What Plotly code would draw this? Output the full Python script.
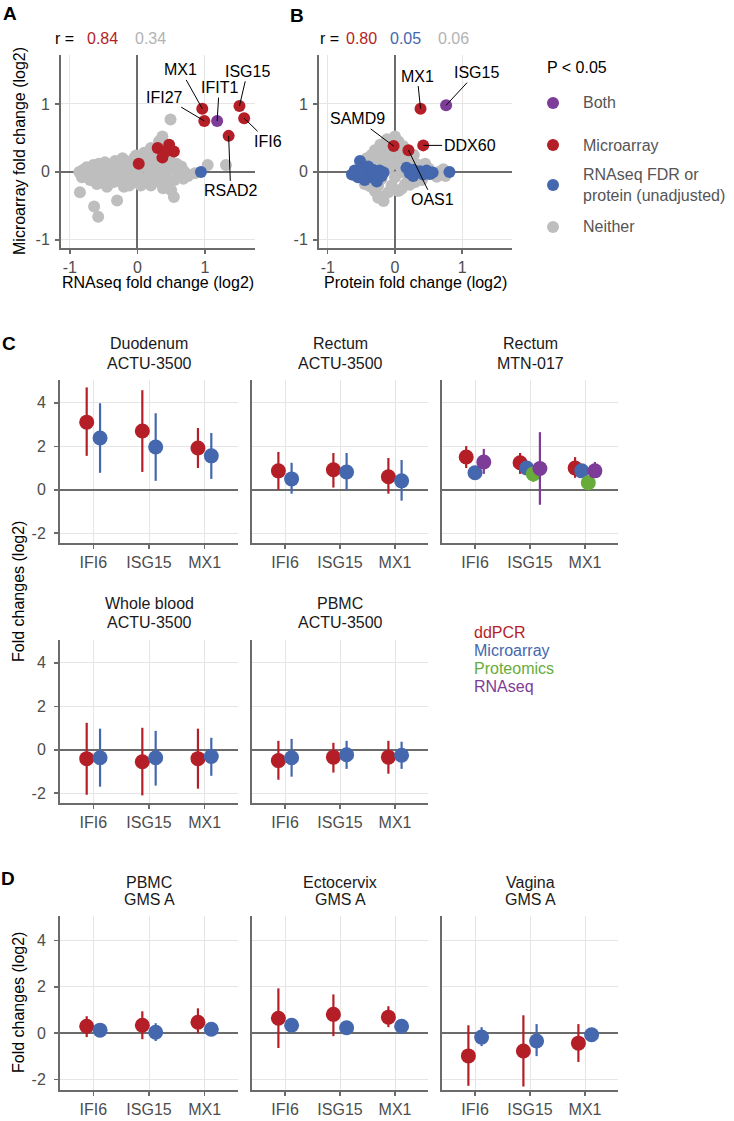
import plotly.graph_objects as go

W, H = 734, 1121
FONT = "Liberation Sans, Arial, Helvetica, sans-serif"

RED = "#B41E26"
BLUE = "#4467AD"
GREEN = "#67AC3A"
PURPLE = "#7D3C98"
GRAY_PT = "#BEBEBE"
GRAY_TXT = "#B3B3B3"
AXIS_COL = "#6B6B6B"
GRID_COL = "#E5E5E5"
TICK_TXT = "#4D4D4D"

# ---------------- Panel A: RNAseq vs Microarray (log2 FC) ----------------
A_NEITHER = [(-0.86, 0.00), (-0.80, 0.03), (-0.78, -0.04), (-0.72, 0.02), (-0.68, -0.06),
             (-0.62, 0.05), (-0.60, -0.08), (-0.55, 0.00), (-0.52, 0.08), (-0.50, -0.12),
             (-0.45, 0.04), (-0.42, -0.06), (-0.38, 0.10), (-0.35, -0.15), (-0.30, 0.02),
             (-0.28, 0.12), (-0.25, -0.10), (-0.20, 0.06), (-0.18, 0.16), (-0.15, -0.05),
             (-0.10, 0.10), (-0.08, -0.16), (-0.05, 0.20), (0.00, 0.02), (0.03, -0.08),
             (0.06, 0.18), (0.10, 0.08), (0.12, -0.12), (0.15, 0.25), (0.18, 0.00),
             (0.22, 0.15), (0.25, -0.06), (0.28, 0.30), (0.30, 0.05), (0.33, -0.15),
             (0.36, 0.22), (0.40, 0.10), (0.42, -0.05), (0.45, -0.20), (0.48, 0.18),
             (0.52, 0.05), (0.55, -0.12), (0.58, 0.12), (0.62, 0.02), (0.54, -0.37),
             (0.70, 0.00), (0.37, 0.52), (0.49, 0.77), (1.04, 0.10), (1.31, 0.10),
             (0.85, -0.02), (-0.85, -0.30), (-0.64, -0.51), (-0.58, -0.66), (-0.30, -0.42),
             (-0.45, -0.22), (0.20, -0.20), (-0.60, -0.18), (0.05, -0.20), (-0.20, -0.22),
             (0.65, 0.08), (0.75, -0.06), (-0.82, -0.08), (-0.75, 0.07), (-0.70, -0.12),
             (-0.65, 0.10), (-0.57, 0.12), (-0.48, 0.14), (-0.40, -0.16), (-0.33, 0.16),
             (-0.22, 0.20), (-0.12, -0.20), (-0.02, 0.24), (0.08, -0.14), (0.10, 0.28),
             (0.20, 0.35), (0.32, 0.45), (0.38, -0.24), (0.50, -0.27), (0.60, -0.08),
             (0.15, 0.10), (-0.35, 0.06), (-0.05, -0.03), (0.26, 0.22), (0.68, -0.10)]
A_RNASEQ = [(0.94, 0.00)]
A_MICRO = [(0.02, 0.12), (0.30, 0.35), (0.37, 0.21), (0.47, 0.40), (0.54, 0.30), (0.42, 0.30),
           (0.96, 0.93), (0.99, 0.75), (1.51, 0.97), (1.58, 0.79), (1.35, 0.53)]
A_BOTH = [(1.18, 0.75)]
A_LABELS = ["MX1", "IFI27", "IFIT1", "ISG15", "IFI6", "RSAD2"]
A_LABEL_PTS = [(0.96, 0.93), (0.99, 0.75), (1.18, 0.75), (1.51, 0.97), (1.58, 0.79), (1.35, 0.53)]
A_LABEL_TXT = [(0.64, 1.50), (0.40, 1.10), (1.21, 1.24), (1.63, 1.48), (1.93, 0.45), (1.38, -0.28)]
A_R = ["0.84", "0.34"]

# ---------------- Panel B: Protein vs Microarray (log2 FC) ----------------
B_NEITHER = [(0.00, 0.52), (-0.08, 0.45), (0.05, 0.45), (-0.15, 0.38), (0.12, 0.38),
             (-0.20, 0.30), (0.00, 0.30), (0.15, 0.28), (-0.28, 0.22), (-0.10, 0.22),
             (0.08, 0.20), (0.25, 0.18), (-0.38, 0.15), (-0.20, 0.12), (0.00, 0.12),
             (0.20, 0.10), (0.35, 0.10), (-0.50, 0.08), (-0.30, 0.05), (-0.10, 0.05),
             (0.10, 0.00), (0.30, 0.02), (0.50, 0.05), (0.65, 0.00), (-0.60, -0.05),
             (-0.40, -0.08), (-0.20, -0.10), (0.00, -0.08), (0.20, -0.08), (0.45, -0.05),
             (0.70, -0.03), (-0.45, -0.18), (-0.25, -0.20), (-0.05, -0.20), (0.15, -0.18),
             (0.30, -0.15), (-0.30, -0.28), (-0.10, -0.30), (0.05, -0.28), (-0.17, -0.43),
             (-0.20, -0.36), (0.58, -0.02), (-0.30, 0.32), (-0.22, 0.40), (0.22, -0.19),
             (-0.37, -0.21), (0.75, -0.06), (-0.35, 0.25), (-0.05, 0.38), (0.08, 0.32),
             (-0.12, 0.48), (0.18, 0.22), (-0.42, 0.20), (0.28, 0.25), (0.62, -0.07),
             (0.72, 0.04), (0.40, -0.12), (-0.25, -0.38), (0.10, -0.25), (0.45, 0.12)]
B_PROTEIN = [(-0.64, -0.04), (-0.60, 0.02), (-0.55, -0.08), (-0.52, 0.16), (-0.48, 0.05),
             (-0.45, -0.12), (-0.40, 0.08), (-0.37, -0.04), (-0.33, 0.03), (-0.30, -0.10),
             (-0.27, -0.14), (-0.23, 0.02), (-0.20, -0.06), (-0.17, -0.01), (-0.50, -0.02),
             (0.17, 0.06), (0.22, -0.02), (0.27, 0.03), (0.27, -0.06), (0.33, 0.00),
             (0.37, 0.01), (0.42, -0.04), (0.47, 0.02), (0.52, -0.03), (0.56, -0.01),
             (0.81, 0.00)]
B_MICRO = [(0.38, 0.93), (-0.02, 0.38), (0.20, 0.32), (0.42, 0.39)]
B_BOTH = [(0.76, 0.98)]
B_LABELS = ["MX1", "ISG15", "SAMD9", "DDX60", "OAS1"]
B_LABEL_PTS = [(0.38, 0.93), (0.76, 0.98), (-0.02, 0.38), (0.42, 0.39), (0.20, 0.32)]
B_LABEL_TXT = [(0.33, 1.41), (1.21, 1.46), (-0.56, 0.78), (1.11, 0.39), (0.56, -0.41)]
B_R = ["0.80", "0.05", "0.06"]

LEGEND_CATS = ["Both", "Microarray", "RNAseq FDR or<br>protein (unadjusted)", "Neither"]
LEGEND_COLS = [PURPLE, RED, BLUE, GRAY_PT]

# ---------------- Panels C / D: fold changes per gene ----------------
GENES = ["IFI6", "ISG15", "MX1"]
METHODS = ["ddPCR", "Microarray", "Proteomics", "RNAseq"]
METHOD_COLS = [RED, BLUE, GREEN, PURPLE]

DUO_FC = {"ddPCR": [3.11, 2.70, 1.92], "Microarray": [2.38, 1.97, 1.56]}
DUO_LO = {"ddPCR": [1.56, 0.82, 1.00], "Microarray": [0.78, 0.41, 0.50]}
DUO_HI = {"ddPCR": [4.71, 4.58, 2.84], "Microarray": [3.98, 3.52, 2.61]}

RECT_FC = {"ddPCR": [0.87, 0.92, 0.60], "Microarray": [0.50, 0.82, 0.41]}
RECT_LO = {"ddPCR": [0.00, 0.10, -0.18], "Microarray": [-0.18, 0.00, -0.50]}
RECT_HI = {"ddPCR": [1.74, 1.69, 1.46], "Microarray": [1.24, 1.69, 1.37]}

MTN_FC = {"ddPCR": [1.51, 1.24, 1.00], "Microarray": [0.78, 1.00, 0.87],
          "Proteomics": [None, 0.73, 0.32], "RNAseq": [1.28, 0.98, 0.87]}
MTN_LO = {"ddPCR": [1.00, 0.73, 0.55], "Microarray": [0.70, 0.92, 0.80],
          "Proteomics": [None, 0.36, 0.22], "RNAseq": [0.73, -0.69, 0.55]}
MTN_HI = {"ddPCR": [2.01, 1.69, 1.50], "Microarray": [0.86, 1.08, 0.94],
          "Proteomics": [None, 1.05, 0.42], "RNAseq": [1.88, 2.65, 1.28]}

WB_FC = {"ddPCR": [-0.41, -0.55, -0.41], "Microarray": [-0.37, -0.37, -0.31]}
WB_LO = {"ddPCR": [-2.07, -2.10, -1.79], "Microarray": [-1.70, -1.65, -1.20]}
WB_HI = {"ddPCR": [1.24, 1.01, 0.97], "Microarray": [0.97, 0.87, 0.55]}

PBMC_FC = {"ddPCR": [-0.50, -0.34, -0.34], "Microarray": [-0.37, -0.23, -0.25]}
PBMC_LO = {"ddPCR": [-1.38, -1.05, -1.10], "Microarray": [-1.24, -0.88, -0.88]}
PBMC_HI = {"ddPCR": [0.41, 0.32, 0.41], "Microarray": [0.50, 0.41, 0.37]}

GPBMC_FC = {"ddPCR": [0.30, 0.34, 0.47], "Microarray": [0.13, 0.04, 0.17]}
GPBMC_LO = {"ddPCR": [-0.17, -0.26, 0.00], "Microarray": [0.05, -0.34, 0.10]}
GPBMC_HI = {"ddPCR": [0.73, 0.94, 1.07], "Microarray": [0.22, 0.43, 0.25]}

ECTO_FC = {"ddPCR": [0.64, 0.81, 0.69], "Microarray": [0.34, 0.23, 0.30]}
ECTO_LO = {"ddPCR": [-0.64, -0.13, 0.26], "Microarray": [0.24, 0.13, 0.22]}
ECTO_HI = {"ddPCR": [1.93, 1.67, 1.16], "Microarray": [0.44, 0.33, 0.38]}

VAG_FC = {"ddPCR": [-0.98, -0.77, -0.43], "Microarray": [-0.17, -0.34, -0.07]}
VAG_LO = {"ddPCR": [-2.27, -2.30, -1.24], "Microarray": [-0.56, -0.99, -0.15]}
VAG_HI = {"ddPCR": [0.34, 0.77, 0.39], "Microarray": [0.26, 0.39, 0.02]}

PANEL_TITLES = [("Duodenum", "ACTU-3500"), ("Rectum", "ACTU-3500"), ("Rectum", "MTN-017"),
                ("Whole blood", "ACTU-3500"), ("PBMC", "ACTU-3500"),
                ("PBMC", "GMS A"), ("Ectocervix", "GMS A"), ("Vagina", "GMS A")]
PANEL_DATA = [(DUO_FC, DUO_LO, DUO_HI), (RECT_FC, RECT_LO, RECT_HI), (MTN_FC, MTN_LO, MTN_HI),
              (WB_FC, WB_LO, WB_HI), (PBMC_FC, PBMC_LO, PBMC_HI),
              (GPBMC_FC, GPBMC_LO, GPBMC_HI), (ECTO_FC, ECTO_LO, ECTO_HI), (VAG_FC, VAG_LO, VAG_HI)]

# ---------------- layout geometry (pixels) ----------------
COLS = [(60, 238), (252, 428), (442, 618)]
ROW_C1 = (380, 543)
ROW_C2 = (640, 803)
ROW_D = (916, 1090)
PANEL_POS = [(0, ROW_C1), (1, ROW_C1), (2, ROW_C1), (0, ROW_C2), (1, ROW_C2),
             (0, ROW_D), (1, ROW_D), (2, ROW_D)]
TITLE_Y = {ROW_C1: (344, 363), ROW_C2: (603, 622), ROW_D: (882, 899)}
SCATTER_BOX = [((61, 255), (55, 248)), ((319, 512), (55, 248))]
LEG_BOX = ((540, 566), (90, 240))   # small region holding the legend keys


def ax_name(i, letter):
    return letter if i == 1 else f"{letter}{i}"


def lay_key(i, letter):
    return f"{letter}axis" if i == 1 else f"{letter}axis{i}"


def dom_x(x0, x1):
    return [x0 / W, x1 / W]


def dom_y(y0, y1):
    return [1 - y1 / H, 1 - y0 / H]


def px(x):
    return x / W


def py(y):
    return 1 - y / H


def split(points):
    return [p[0] for p in points], [p[1] for p in points]


fig = go.Figure()
layout = {}
annotations = []

common = dict(ticks="outside", ticklen=4, tickwidth=1.5, tickcolor=AXIS_COL,
              tickfont=dict(family=FONT, size=16, color=TICK_TXT),
              showline=True, linecolor=AXIS_COL, linewidth=2,
              showgrid=True, gridcolor=GRID_COL, gridwidth=1, fixedrange=True)

# ---- scatter panels A, B ----
for i, (xb, yb) in enumerate(SCATTER_BOX, start=1):
    layout[lay_key(i, "x")] = dict(domain=dom_x(*xb), range=[-1.13, 1.74],
                                   tickvals=[-1, 0, 1], ticktext=["-1", "0", "1"],
                                   zeroline=True, zerolinecolor=AXIS_COL, zerolinewidth=2,
                                   anchor=ax_name(i, "y"), **common)
    layout[lay_key(i, "y")] = dict(domain=dom_y(*yb), range=[-1.12, 1.72],
                                   tickvals=[-1, 0, 1], ticktext=["-1", "0", "1"],
                                   zeroline=True, zerolinecolor=AXIS_COL, zerolinewidth=2,
                                   ticklabelstandoff=2, anchor=ax_name(i, "x"), **common)

scatter_sets = [
    (1, [(A_NEITHER, GRAY_PT), (A_RNASEQ, BLUE), (A_MICRO, RED), (A_BOTH, PURPLE)]),
    (2, [(B_NEITHER, GRAY_PT), (B_PROTEIN, BLUE), (B_MICRO, RED), (B_BOTH, PURPLE)]),
]
for i, sets in scatter_sets:
    for pts_, col in sets:
        xs, ys = split(pts_)
        fig.add_trace(go.Scatter(x=xs, y=ys, mode="markers",
                                 marker=dict(size=12, color=col, line=dict(width=0)),
                                 xaxis=ax_name(i, "x"), yaxis=ax_name(i, "y"),
                                 showlegend=False, hoverinfo="skip"))

for i, labels, pts_, txts in [(1, A_LABELS, A_LABEL_PTS, A_LABEL_TXT),
                              (2, B_LABELS, B_LABEL_PTS, B_LABEL_TXT)]:
    for lab, (x, y), (tx, ty) in zip(labels, pts_, txts):
        annotations.append(dict(text=lab, x=x, y=y, ax=tx, ay=ty,
                                xref=ax_name(i, "x"), yref=ax_name(i, "y"),
                                axref=ax_name(i, "x"), ayref=ax_name(i, "y"),
                                showarrow=True, arrowhead=0, arrowwidth=1, arrowcolor="#000",
                                font=dict(family=FONT, size=16, color="#000")))

# r value annotations
r_items = [("r =", "#000", 53), (A_R[0], RED, 85), (A_R[1], GRAY_TXT, 133),
           ("r =", "#000", 318), (B_R[0], RED, 344), (B_R[1], BLUE, 388), (B_R[2], GRAY_TXT, 436)]
for txt, col, x in r_items:
    annotations.append(dict(text=txt, x=px(x), y=py(39), xref="paper", yref="paper",
                            xanchor="left", yanchor="middle", showarrow=False,
                            font=dict(family=FONT, size=16, color=col)))

# axis titles
for txt, x, y, ang in [("RNAseq fold change (log2)", 158, 282, 0),
                       ("Protein fold change (log2)", 415, 282, 0),
                       ("Microarray fold change (log2)", 20, 151, -90),
                       ("Fold changes (log2)", 18, 592, -90),
                       ("Fold changes (log2)", 18, 1003, -90)]:
    annotations.append(dict(text=txt, x=px(x), y=py(y), xref="paper", yref="paper",
                            xanchor="center", yanchor="middle", textangle=ang, showarrow=False,
                            font=dict(family=FONT, size=16, color="#000")))

# panel letters
for txt, x, y in [("A", 10, 14), ("B", 297, 15), ("C", 9, 344), ("D", 8, 878)]:
    annotations.append(dict(text=f"<b>{txt}</b>", x=px(x), y=py(y), xref="paper", yref="paper",
                            xanchor="center", yanchor="middle", showarrow=False,
                            font=dict(family=FONT, size=19, color="#000")))

# legend P < 0.05: keys drawn on a small dedicated axis (pixel units)
LEG_I = 11
(lx0, lx1), (ly0, ly1) = LEG_BOX
layout[lay_key(LEG_I, "x")] = dict(domain=dom_x(lx0, lx1), range=[lx0, lx1], visible=False,
                                   fixedrange=True, anchor=ax_name(LEG_I, "y"))
layout[lay_key(LEG_I, "y")] = dict(domain=dom_y(ly0, ly1), range=[ly1, ly0], visible=False,
                                   fixedrange=True, anchor=ax_name(LEG_I, "x"))
LEG_Y = [103, 145, 185, 227]
fig.add_trace(go.Scatter(x=[553] * len(LEGEND_CATS), y=LEG_Y, mode="markers",
                         marker=dict(size=12, color=LEGEND_COLS),
                         xaxis=ax_name(LEG_I, "x"), yaxis=ax_name(LEG_I, "y"),
                         showlegend=False, hoverinfo="skip", cliponaxis=False))
annotations.append(dict(text="P < 0.05", x=px(545), y=py(67), xref="paper", yref="paper",
                        xanchor="left", yanchor="middle", showarrow=False,
                        font=dict(family=FONT, size=16, color="#000")))
for lab, y in zip(LEGEND_CATS, LEG_Y):
    annotations.append(dict(text=lab, x=px(581), y=py(y), xref="paper", yref="paper",
                            xanchor="left", yanchor="middle", align="left", showarrow=False,
                            font=dict(family=FONT, size=16, color="#555555")))

# ---- panels C / D ----
DODGE = 0.48
for k, ((fc, lo, hi), (t1, t2), (col_i, row)) in enumerate(zip(PANEL_DATA, PANEL_TITLES, PANEL_POS)):
    i = k + 3
    first = col_i == 0
    layout[lay_key(i, "x")] = dict(domain=dom_x(*COLS[col_i]), range=[0.4, 3.6],
                                   tickvals=[1, 2, 3], ticktext=GENES, zeroline=False,
                                   anchor=ax_name(i, "y"), **common)
    yc = dict(common)
    yc["ticks"] = "outside" if first else ""
    layout[lay_key(i, "y")] = dict(domain=dom_y(*row), range=[-2.45, 5.05],
                                   tickvals=[-2, 0, 2, 4], ticktext=["-2", "0", "2", "4"],
                                   showticklabels=first, zeroline=True, zerolinecolor=AXIS_COL,
                                   zerolinewidth=2, ticklabelstandoff=5,
                                   anchor=ax_name(i, "x"), **yc)
    offsets = {}
    for g in range(len(GENES)):
        present = [m for m in METHODS if m in fc and fc[m][g] is not None]
        n = len(present)
        for j, m in enumerate(present):
            offsets[(m, g)] = (j + 1 - (n + 1) / 2) * DODGE / n
    for m, mcol in zip(METHODS, METHOD_COLS):
        if m not in fc:
            continue
        xs, ys, ep, em = [], [], [], []
        for g in range(len(GENES)):
            v = fc[m][g]
            if v is None:
                continue
            xs.append(g + 1 + offsets[(m, g)])
            ys.append(v)
            ep.append(hi[m][g] - v)
            em.append(v - lo[m][g])
        fig.add_trace(go.Scatter(x=xs, y=ys, mode="markers",
                                 marker=dict(size=15, color=mcol, line=dict(width=0)),
                                 error_y=dict(type="data", symmetric=False, array=ep, arrayminus=em,
                                              color=mcol, thickness=2.2, width=0),
                                 xaxis=ax_name(i, "x"), yaxis=ax_name(i, "y"),
                                 showlegend=False, hoverinfo="skip", cliponaxis=False))
    cx = (COLS[col_i][0] + COLS[col_i][1]) / 2
    for txt, yy in zip((t1, t2), TITLE_Y[row]):
        annotations.append(dict(text=txt, x=px(cx), y=py(yy), xref="paper", yref="paper",
                                xanchor="center", yanchor="middle", showarrow=False,
                                font=dict(family=FONT, size=16, color="#1A1A1A")))

# method legend (coloured text)
for m, mcol, y in zip(METHODS, METHOD_COLS, [632, 650, 668, 686]):
    annotations.append(dict(text=m, x=px(472), y=py(y), xref="paper", yref="paper",
                            xanchor="left", yanchor="middle", showarrow=False,
                            font=dict(family=FONT, size=16, color=mcol)))

fig.update_layout(width=W, height=H, margin=dict(l=0, r=0, t=0, b=0),
                  paper_bgcolor="white", plot_bgcolor="white",
                  font=dict(family=FONT, size=16, color="#000"),
                  showlegend=False, annotations=annotations, **layout)

# remove the browser's default 8px page margin so the figure fills the window exactly
fig.write_html("out.html", config={"displayModeBar": False, "staticPlot": True},
               post_script="document.body.style.margin='0';")
